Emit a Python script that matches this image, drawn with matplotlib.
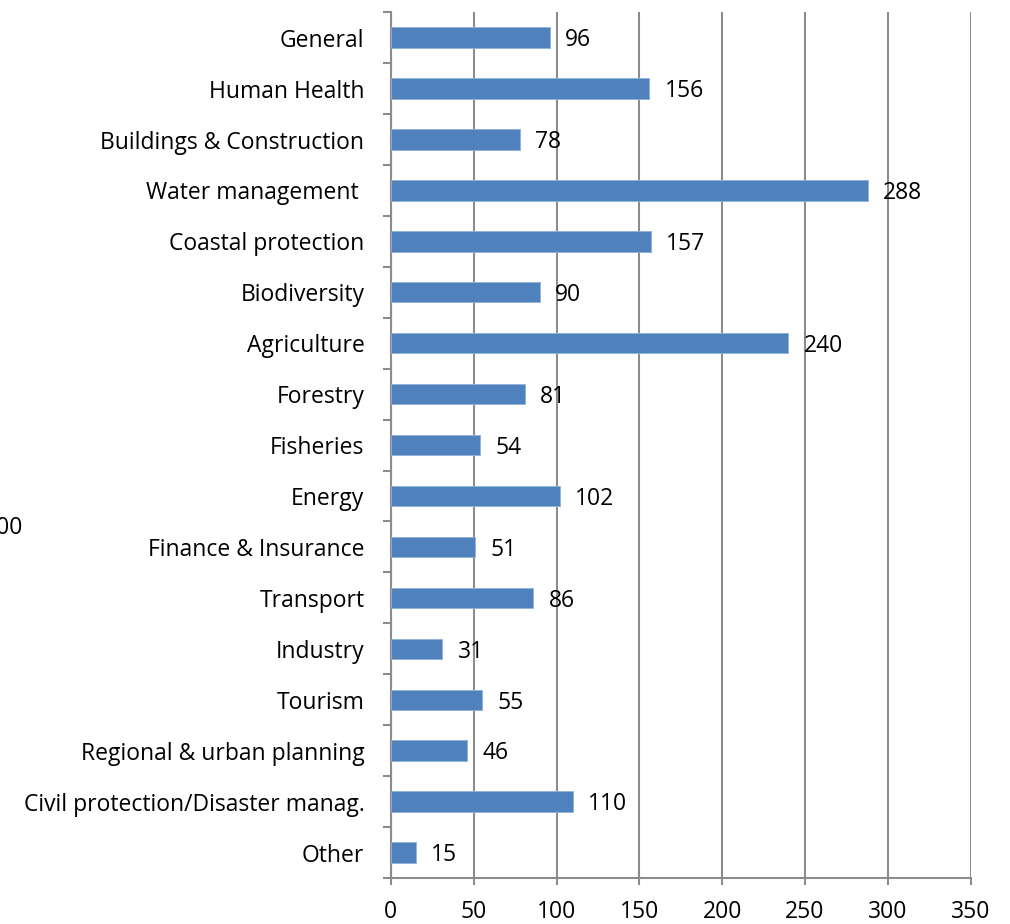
import matplotlib.pyplot as plt
import numpy as np

categories = [
    "General",
    "Human Health",
    "Buildings & Construction",
    "Water management ",
    "Coastal protection",
    "Biodiversity",
    "Agriculture",
    "Forestry",
    "Fisheries",
    "Energy",
    "Finance & Insurance",
    "Transport",
    "Industry",
    "Tourism",
    "Regional & urban planning",
    "Civil protection/Disaster manag.",
    "Other",
]
counts = [96, 156, 78, 288, 157, 90, 240, 81, 54, 102, 51, 86, 31, 55, 46, 110, 15]
x_ticks = [0, 50, 100, 150, 200, 250, 300, 350]

plt.rcParams["font.family"] = ["Open Sans", "DejaVu Sans"]
grid_gray = "#8c8c8c"
fs = 16.5

fig = plt.figure(figsize=(10.1, 9.24), dpi=100)
ax = fig.add_axes([0.387, 0.0498, 0.574, 0.937])

y = np.arange(len(categories))
ax.barh(y, counts, height=0.4, color="#4f81bd", edgecolor="#8fb0d8", linewidth=0.6, zorder=3)
for yi, v in zip(y, counts):
    ax.annotate(str(v), (v, yi), xytext=(11, -2), textcoords="offset points",
                ha="left", va="center", fontsize=fs, color="black", zorder=4)

ax.set_xlim(0, 350)
ax.set_ylim(len(categories) - 0.5, -0.5)
ax.set_xticks(x_ticks)
ax.set_xticklabels([str(t) for t in x_ticks], fontsize=fs)
ax.set_yticks(y)
ax.set_yticklabels(categories, fontsize=fs)
ax.set_yticks(np.arange(len(categories) + 1) - 0.5, minor=True)

ax.tick_params(axis="y", which="major", length=0, pad=19)
ax.tick_params(axis="y", which="minor", length=6, width=1.5, color=grid_gray, direction="out")
ax.tick_params(axis="x", which="major", length=5, width=1.5, color=grid_gray, pad=11)

ax.grid(axis="x", color=grid_gray, linewidth=1.5, zorder=0)
for side in ("top", "right"):
    ax.spines[side].set_visible(False)
for side in ("left", "bottom"):
    ax.spines[side].set_color(grid_gray)
    ax.spines[side].set_linewidth(1.5)

# leftover label sitting past the left edge of the canvas
fig.text(-0.016, 1 - 528 / 924, "300", fontsize=fs, ha="left", va="center")

fig.savefig("out.png", dpi=100)
